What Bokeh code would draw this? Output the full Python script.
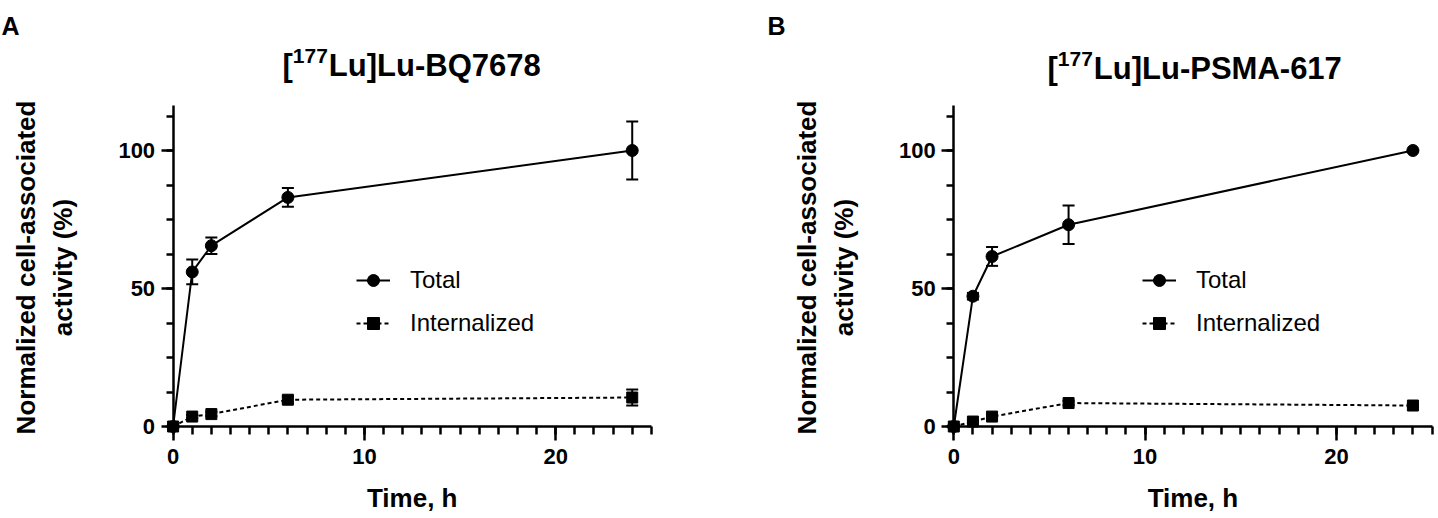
import math
from bokeh.plotting import figure
from bokeh.models import (Range1d, SingleIntervalTicker, Whisker, TeeHead,
                          ColumnDataSource, Label, Legend, LegendItem)
from bokeh.layouts import row
from bokeh.embed import file_html
from bokeh.resources import INLINE

# ---------------- data ----------------
time_h = [0, 1, 2, 6, 24]

a_total = [0, 56.0, 65.5, 83.0, 100.0]
a_total_err = [0, 4.5, 3.0, 3.4, 10.5]
a_int = [0, 3.6, 4.5, 9.7, 10.5]
a_int_err = [0, 0.6, 0.8, 1.2, 2.9]

b_total = [0, 47.2, 61.6, 73.1, 100.0]
b_total_err = [0, 1.2, 3.4, 7.0, 0.0]
b_int = [0, 1.8, 3.6, 8.5, 7.6]
b_int_err = [0, 0.4, 0.5, 0.8, 0.6]

panel_letters = ["A", "B"]
title_sup = "177"
title_rest = ["Lu]Lu-BQ7678", "Lu]Lu-PSMA-617"]
series_labels = ["Total", "Internalized"]
x_label = "Time, h"
y_label_lines = ["Normalized cell-associated", "activity (%)"]

x_axis_end = 25
y_axis_end = 116.3

# ---------------- layout (pixels) ----------------
FONT = "Liberation Sans"
BOLD_W = {"[": 333, "]": 333, "L": 611, "u": 611, "-": 333, "B": 722, "Q": 778,
          "P": 667, "S": 667, "M": 833, "A": 722}
for d in "0123456789":
    BOLD_W[d] = 556


def tw(s, size):
    return sum(BOLD_W.get(c, 556) for c in s) * size / 1000.0


H = 518
PXX = 19.13   # px per hour
PXY = 2.76    # px per percent
Y0_PX = 426   # pixel row of y = 0


def make_panel(idx, total, total_err, internal, internal_err, width, x0px, cfg):
    def dx(px):  # figure pixel column -> data x
        return (px - x0px) / PXX

    def dy(py):  # pixel row -> data y
        return (Y0_PX - py) / PXY

    p = figure(width=width, height=H, x_range=Range1d(dx(0), dx(width)),
               y_range=Range1d(dy(H), dy(0)), title=None,
               output_backend="svg", toolbar_location=None,
               min_border_left=0, min_border_right=0, min_border_top=0, min_border_bottom=0)
    p.xgrid.visible = False
    p.ygrid.visible = False
    p.outline_line_color = None
    p.background_fill_color = "white"
    p.border_fill_color = "white"

    for ax in (p.xaxis[0], p.yaxis[0]):
        ax.fixed_location = 0
        ax.axis_line_width = 2.5
        ax.axis_line_color = "black"
        ax.major_tick_line_width = 2.5
        ax.minor_tick_line_width = 2.5
        ax.major_tick_line_color = "black"
        ax.minor_tick_line_color = "black"
        ax.major_tick_in = 0
        ax.minor_tick_in = 0
        ax.major_label_text_font = FONT
        ax.major_label_text_font_style = "bold"
        ax.major_label_text_font_size = "22px"
        ax.major_label_text_color = "black"
    p.xaxis.bounds = (0, x_axis_end)
    p.yaxis.bounds = (0, y_axis_end)
    p.xaxis.ticker = SingleIntervalTicker(interval=10, num_minor_ticks=10)
    p.yaxis.ticker = SingleIntervalTicker(interval=50, num_minor_ticks=4)
    p.xaxis.major_tick_out = 14
    p.xaxis.minor_tick_out = 8
    p.yaxis.major_tick_out = 12
    p.yaxis.minor_tick_out = 7
    p.xaxis.major_label_standoff = 8
    p.yaxis.major_label_standoff = 6

    src = ColumnDataSource(dict(
        x=time_h, t=total,
        tl=[v - e for v, e in zip(total, total_err)],
        tu=[v + e for v, e in zip(total, total_err)],
        i=internal,
        il=[v - e for v, e in zip(internal, internal_err)],
        iu=[v + e for v, e in zip(internal, internal_err)],
    ))

    lt = p.line("x", "t", source=src, line_width=2, line_color="black")
    li = p.line("x", "i", source=src, line_width=2, line_color="black", line_dash="4 3")
    for lo, up in (("tl", "tu"), ("il", "iu")):
        w = Whisker(source=src, base="x", lower=lo, upper=up, line_width=2, line_color="black",
                    upper_head=TeeHead(size=12, line_width=2, line_color="black"),
                    lower_head=TeeHead(size=12, line_width=2, line_color="black"))
        p.add_layout(w)
    st = p.scatter("x", "t", source=src, marker="circle", size=12, color="black")
    si = p.scatter("x", "i", source=src, marker="square", size=11, color="black")

    legend = Legend(items=[LegendItem(label=series_labels[0], renderers=[lt, st]),
                           LegendItem(label=series_labels[1], renderers=[li, si])],
                    location=(cfg["legend_x"], H - 338), orientation="vertical",
                    glyph_width=34, glyph_height=30, label_height=30, spacing=13,
                    label_standoff=20, padding=0, margin=0,
                    label_text_font=FONT, label_text_font_size="24px", label_text_color="black",
                    border_line_color=None, background_fill_alpha=0)
    p.add_layout(legend)

    # title with superscript
    main_sz, sup_sz = 31, 21
    w_open = tw("[", main_sz)
    w_sup = tw(title_sup, sup_sz)
    x_start = cfg["title_x"]
    y_base = cfg["title_base"]
    common = dict(text_font=FONT, text_font_style="bold", text_color="black",
                  text_align="left", text_baseline="alphabetic")
    p.add_layout(Label(x=dx(x_start), y=dy(y_base), text="[", text_font_size=f"{main_sz}px", **common))
    p.add_layout(Label(x=dx(x_start + w_open), y=dy(y_base - 10), text=title_sup,
                       text_font_size=f"{sup_sz}px", **common))
    p.add_layout(Label(x=dx(x_start + w_open + w_sup + 1), y=dy(y_base), text=title_rest[idx],
                       text_font_size=f"{main_sz}px", **common))

    # panel letter
    p.add_layout(Label(x=dx(cfg["letter_x"]), y=dy(25), text=panel_letters[idx],
                       text_font_size="25px", **common))

    # axis labels
    p.add_layout(Label(x=dx(x0px + x_axis_end * PXX / 2), y=dy(497), text=x_label, text_font=FONT,
                       text_font_style="bold", text_font_size="26px", text_align="center",
                       text_baseline="middle", text_color="black"))
    for xx, txt in zip(cfg["ylab_x"], y_label_lines):
        p.add_layout(Label(x=dx(xx), y=dy(267), text=txt, angle=math.pi / 2, text_font=FONT,
                           text_font_style="bold", text_font_size="26px", text_align="center",
                           text_baseline="middle", text_color="black"))
    return p


WA, WB = 760, 678
cfgA = dict(legend_x=356, title_x=282, title_base=65, letter_x=1, ylab_x=[25, 62])
cfgB = dict(legend_x=1142 - WA, title_x=1047 - WA, title_base=68, letter_x=767 - WA,
            ylab_x=[806 - WA, 843 - WA])
pA = make_panel(0, a_total, a_total_err, a_int, a_int_err, WA, 172.6, cfgA)
pB = make_panel(1, b_total, b_total_err, b_int, b_int_err, WB, 953.3 - WA, cfgB)

layout = row(pA, pB)
open("out.html", "w").write(file_html(layout, INLINE))
